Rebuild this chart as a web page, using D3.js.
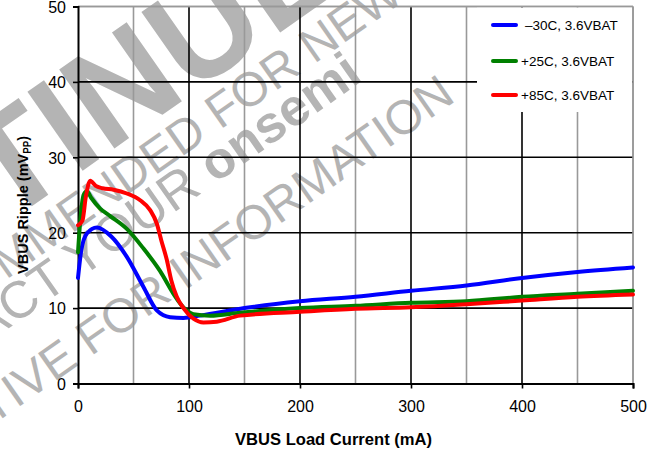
<!DOCTYPE html>
<html>
<head>
<meta charset="utf-8">
<script src="https://cdn.jsdelivr.net/npm/d3@7"></script>
<style>
  body { margin: 0; background: #fff; }
  svg { display: block; font-family: Arial, "Liberation Sans", Helvetica, sans-serif; }
  .tick text { font-size: 16px; fill: #000; }
</style>
</head>
<body>
<div id="chart"></div>
<script>
// VBUS ripple vs load current, three temperatures at 3.6 VBAT

const seriesNames = ["\u201330C, 3.6VBAT", "+25C, 3.6VBAT", "+85C, 3.6VBAT"];
const seriesColors = ["#0000ff", "#008000", "#ff0000"];

const currentCold = [0, 3, 8, 17, 30, 44, 59, 71, 83, 95, 110, 150, 200, 250, 300, 350, 400, 450, 500];
const rippleCold  = [14.0, 17.7, 19.9, 20.7, 19.5, 16.8, 12.8, 9.7, 8.8, 8.7, 9.0, 10.0, 10.9, 11.5, 12.3, 13.0, 14.0, 14.8, 15.4];

const currentRoom = [0, 2, 5, 8, 12, 20, 29, 44, 59, 74, 86, 95, 104, 119, 146, 200, 250, 300, 350, 400, 450, 500];
const rippleRoom  = [17.4, 21.5, 25.0, 25.5, 24.6, 23.2, 22.2, 20.5, 17.9, 14.9, 11.9, 10.1, 9.2, 9.0, 9.4, 10.0, 10.3, 10.7, 10.9, 11.5, 11.9, 12.3];

const currentHot = [0, 4, 7, 11, 16, 22, 32, 44, 56, 65, 71, 75, 80, 84, 89, 95, 104, 113, 125, 146, 200, 250, 300, 350, 400, 450, 500];
const rippleHot  = [21.0, 21.6, 24.7, 26.9, 26.2, 25.9, 25.7, 25.2, 24.3, 23.0, 21.2, 19.0, 16.4, 13.7, 11.5, 10.0, 8.6, 8.1, 8.2, 9.0, 9.5, 9.9, 10.1, 10.5, 11.0, 11.5, 11.8];

const xTicks = [0, 100, 200, 300, 400, 500];
const yTicks = [0, 10, 20, 30, 40, 50];

function drawChart() {
  const width = 658, height = 454;
  const left = 78, right = 633, top = 6.5, bottom = 383.5;

  const svg = d3.select("#chart").append("svg")
    .attr("width", width).attr("height", height);

  svg.append("rect").attr("width", width).attr("height", height).attr("fill", "#fff");

  const xScale = d3.scaleLinear().domain([0, 500]).range([left, right]);
  const yScale = d3.scaleLinear().domain([0, 50]).range([bottom, top]);

  // WATERMARK (sits behind the grid)
  const wmColor = "#b4b4b4";
  const angle = -35;
  function watermark(parts, px, py, anchorIdx, size, atEnd) {
    const g = svg.append("g").attr("transform", `translate(${px},${py}) rotate(${angle})`);
    const t = g.append("text").attr("x", 0).attr("y", 0)
      .attr("font-size", size).attr("fill", wmColor);
    parts.forEach(p => {
      t.append("tspan").attr("font-weight", p.bold ? "bold" : "normal").text(p.t);
    });
    const node = t.node();
    const pos = atEnd ? node.getEndPositionOfChar(anchorIdx) : node.getStartPositionOfChar(anchorIdx);
    t.attr("x", -pos.x);
  }
  watermark([{ t: "DISCONTINUED", bold: true }], 75, 176, 7, 140);
  watermark([{ t: "NOT RECOMMENDED FOR NEW DESIGN" }], 220, 130, 16, 48);
  watermark([{ t: "CONTACT YOUR " }, { t: "onsemi", bold: true }], 215, 184, 13, 52);
  const l4 = "REPRESENTATIVE FOR INFORMATION";
  watermark([{ t: l4 }], 457, 100, l4.length - 1, 48, true);

  // GRID
  const grid = svg.append("g");
  d3.range(50, 501, 50).forEach(v => {
    grid.append("line")
      .attr("x1", xScale(v)).attr("x2", xScale(v))
      .attr("y1", top).attr("y2", bottom)
      .attr("stroke", (v % 100 === 0 && v < 500) ? "#000" : "#999")
      .attr("stroke-width", 1.6);
  });
  d3.range(10, 51, 10).forEach(v => {
    grid.append("line")
      .attr("x1", left).attr("x2", right)
      .attr("y1", yScale(v)).attr("y2", yScale(v))
      .attr("stroke", v < 50 ? "#000" : "#999")
      .attr("stroke-width", 1.6);
  });

  // LEGEND BOX (white panel over the grid)
  svg.append("rect")
    .attr("x", 477).attr("y", top + 1)
    .attr("width", right - 477 - 1).attr("height", 112 - top - 1)
    .attr("fill", "#fff");

  // re-draw borders that the legend panel covered
  svg.append("line").attr("x1", left).attr("x2", right).attr("y1", top).attr("y2", top)
    .attr("stroke", "#999").attr("stroke-width", 1.6);
  svg.append("line").attr("x1", right).attr("x2", right).attr("y1", top).attr("y2", bottom)
    .attr("stroke", "#999").attr("stroke-width", 1.6);

  // AXES
  const xAxis = svg.append("g")
    .attr("transform", `translate(0,${bottom})`)
    .call(d3.axisBottom(xScale).tickValues(xTicks).tickSize(5).tickPadding(12).tickFormat(d3.format("d")));
  const yAxis = svg.append("g")
    .attr("transform", `translate(${left},0)`)
    .call(d3.axisLeft(yScale).tickValues(yTicks).tickSize(5).tickPadding(7).tickFormat(d3.format("d")));
  [xAxis, yAxis].forEach(a => {
    a.select(".domain").attr("stroke", "#000").attr("stroke-width", 2);
    a.selectAll(".tick line").attr("stroke", "#000").attr("stroke-width", 1.6);
    a.selectAll(".tick text").attr("font-family", "Arial, 'Liberation Sans', sans-serif");
  });
  yAxis.selectAll(".tick text").attr("dy", "0.36em");

  // CURVES
  const lineGen = d3.line()
    .x(d => xScale(d[0]))
    .y(d => yScale(d[1]))
    .curve(d3.curveMonotoneX);

  const series = [
    d3.zip(currentCold, rippleCold),
    d3.zip(currentRoom, rippleRoom),
    d3.zip(currentHot, rippleHot)
  ];

  series.forEach((pts, i) => {
    svg.append("path")
      .datum(pts)
      .attr("d", lineGen)
      .attr("fill", "none")
      .attr("stroke", seriesColors[i])
      .attr("stroke-width", 4)
      .attr("stroke-linejoin", "round")
      .attr("stroke-linecap", "round");
  });

  // LEGEND
  const legendY = [25, 61, 95];
  seriesNames.forEach((name, i) => {
    svg.append("line")
      .attr("x1", 493).attr("x2", 516)
      .attr("y1", legendY[i]).attr("y2", legendY[i])
      .attr("stroke", seriesColors[i]).attr("stroke-width", 4)
      .attr("stroke-linecap", "round");
    svg.append("text")
      .attr("x", i === 0 ? 525 : 521).attr("y", legendY[i] + 5)
      .attr("font-size", 13.5)
      .text(name);
  });

  // AXIS LABELS
  svg.append("text")
    .attr("x", 235).attr("y", 445)
    .attr("font-size", 16).attr("font-weight", "bold")
    .attr("textLength", 197).attr("lengthAdjust", "spacingAndGlyphs")
    .text("VBUS Load Current (mA)");

  const yLab = svg.append("text")
    .attr("transform", "translate(28,274) rotate(-90)")
    .attr("font-size", 15).attr("font-weight", "bold")
    .attr("textLength", 138).attr("lengthAdjust", "spacingAndGlyphs");
  yLab.append("tspan").text("VBUS Ripple (mV");
  yLab.append("tspan").attr("font-size", 10).attr("dy", 3).text("PP");
  yLab.append("tspan").attr("dy", -3).text(")");
}

drawChart();
</script>
</body>
</html>
